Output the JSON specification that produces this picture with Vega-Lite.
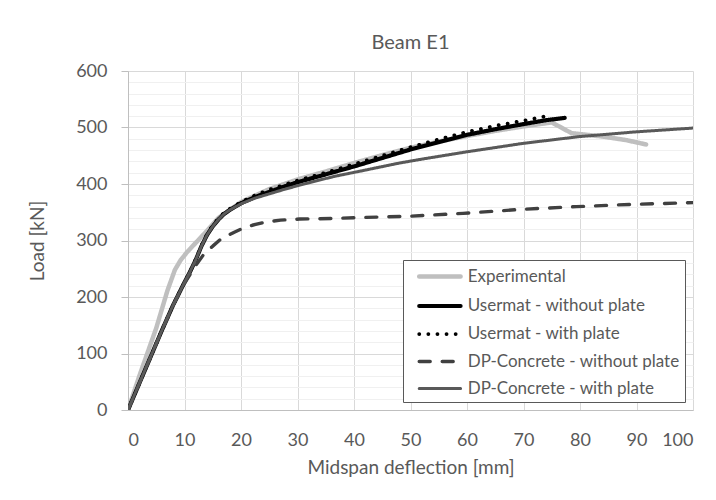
{
  "$schema": "https://vega.github.io/schema/vega-lite/v6.json",
  "autosize": "none",
  "width": 565,
  "height": 339,
  "padding": {"left": 128, "top": 71, "right": 23, "bottom": 90},
  "background": "white",
  "title": {"text": "Beam E1", "font": "Lato", "fontSize": 20, "fontWeight": "normal", "color": "#595959", "anchor": "middle", "frame": "group", "offset": -7, "baseline": "alphabetic"},
  "config": {"view": {"stroke": null}},
  "data": {"values": [
    {"series": "Experimental", "x": 0, "y": 0},
    {"series": "Experimental", "x": 2, "y": 60},
    {"series": "Experimental", "x": 5, "y": 145},
    {"series": "Experimental", "x": 7, "y": 212},
    {"series": "Experimental", "x": 8.3, "y": 248},
    {"series": "Experimental", "x": 9.3, "y": 265},
    {"series": "Experimental", "x": 10.5, "y": 280},
    {"series": "Experimental", "x": 12, "y": 296},
    {"series": "Experimental", "x": 13.5, "y": 312},
    {"series": "Experimental", "x": 16, "y": 340},
    {"series": "Experimental", "x": 20, "y": 368},
    {"series": "Experimental", "x": 25, "y": 391},
    {"series": "Experimental", "x": 30, "y": 408},
    {"series": "Experimental", "x": 35, "y": 422},
    {"series": "Experimental", "x": 40, "y": 437},
    {"series": "Experimental", "x": 45, "y": 451},
    {"series": "Experimental", "x": 50, "y": 464},
    {"series": "Experimental", "x": 55, "y": 475},
    {"series": "Experimental", "x": 60, "y": 485},
    {"series": "Experimental", "x": 65, "y": 494},
    {"series": "Experimental", "x": 70, "y": 502},
    {"series": "Experimental", "x": 75, "y": 509},
    {"series": "Experimental", "x": 78.5, "y": 490},
    {"series": "Experimental", "x": 84, "y": 484},
    {"series": "Experimental", "x": 88, "y": 478},
    {"series": "Experimental", "x": 91.7, "y": 470},

    {"series": "Usermat - without plate", "x": 0, "y": 0},
    {"series": "Usermat - without plate", "x": 2, "y": 47},
    {"series": "Usermat - without plate", "x": 4, "y": 94},
    {"series": "Usermat - without plate", "x": 6, "y": 141},
    {"series": "Usermat - without plate", "x": 8, "y": 186},
    {"series": "Usermat - without plate", "x": 10, "y": 226},
    {"series": "Usermat - without plate", "x": 11, "y": 245},
    {"series": "Usermat - without plate", "x": 12, "y": 266},
    {"series": "Usermat - without plate", "x": 13, "y": 290},
    {"series": "Usermat - without plate", "x": 14, "y": 310},
    {"series": "Usermat - without plate", "x": 15, "y": 325},
    {"series": "Usermat - without plate", "x": 16, "y": 337},
    {"series": "Usermat - without plate", "x": 17, "y": 347},
    {"series": "Usermat - without plate", "x": 18, "y": 354},
    {"series": "Usermat - without plate", "x": 19, "y": 360},
    {"series": "Usermat - without plate", "x": 20, "y": 366},
    {"series": "Usermat - without plate", "x": 22.5, "y": 377},
    {"series": "Usermat - without plate", "x": 25, "y": 386},
    {"series": "Usermat - without plate", "x": 27.5, "y": 395},
    {"series": "Usermat - without plate", "x": 30, "y": 403},
    {"series": "Usermat - without plate", "x": 35, "y": 417},
    {"series": "Usermat - without plate", "x": 40, "y": 431},
    {"series": "Usermat - without plate", "x": 45, "y": 446},
    {"series": "Usermat - without plate", "x": 50, "y": 461},
    {"series": "Usermat - without plate", "x": 55, "y": 474},
    {"series": "Usermat - without plate", "x": 60, "y": 487},
    {"series": "Usermat - without plate", "x": 65, "y": 497},
    {"series": "Usermat - without plate", "x": 70, "y": 506},
    {"series": "Usermat - without plate", "x": 74, "y": 513},
    {"series": "Usermat - without plate", "x": 77.3, "y": 517},

    {"series": "Usermat - with plate", "x": 0, "y": 0},
    {"series": "Usermat - with plate", "x": 2, "y": 47},
    {"series": "Usermat - with plate", "x": 4, "y": 94},
    {"series": "Usermat - with plate", "x": 6, "y": 141},
    {"series": "Usermat - with plate", "x": 8, "y": 186},
    {"series": "Usermat - with plate", "x": 10, "y": 226},
    {"series": "Usermat - with plate", "x": 11, "y": 245},
    {"series": "Usermat - with plate", "x": 12, "y": 267},
    {"series": "Usermat - with plate", "x": 13, "y": 291},
    {"series": "Usermat - with plate", "x": 14, "y": 311},
    {"series": "Usermat - with plate", "x": 15, "y": 327},
    {"series": "Usermat - with plate", "x": 16, "y": 339},
    {"series": "Usermat - with plate", "x": 17, "y": 349},
    {"series": "Usermat - with plate", "x": 18, "y": 356},
    {"series": "Usermat - with plate", "x": 19, "y": 362},
    {"series": "Usermat - with plate", "x": 20, "y": 368},
    {"series": "Usermat - with plate", "x": 22.5, "y": 380},
    {"series": "Usermat - with plate", "x": 25, "y": 390},
    {"series": "Usermat - with plate", "x": 27.5, "y": 398},
    {"series": "Usermat - with plate", "x": 30, "y": 406},
    {"series": "Usermat - with plate", "x": 35, "y": 420},
    {"series": "Usermat - with plate", "x": 40, "y": 435},
    {"series": "Usermat - with plate", "x": 45, "y": 450},
    {"series": "Usermat - with plate", "x": 50, "y": 465},
    {"series": "Usermat - with plate", "x": 55, "y": 479},
    {"series": "Usermat - with plate", "x": 60, "y": 492},
    {"series": "Usermat - with plate", "x": 65, "y": 503},
    {"series": "Usermat - with plate", "x": 70, "y": 512},
    {"series": "Usermat - with plate", "x": 74, "y": 520},

    {"series": "DP-Concrete - without plate", "x": 0, "y": 0},
    {"series": "DP-Concrete - without plate", "x": 2, "y": 47},
    {"series": "DP-Concrete - without plate", "x": 4, "y": 94},
    {"series": "DP-Concrete - without plate", "x": 6, "y": 141},
    {"series": "DP-Concrete - without plate", "x": 8, "y": 186},
    {"series": "DP-Concrete - without plate", "x": 10, "y": 224},
    {"series": "DP-Concrete - without plate", "x": 11, "y": 240},
    {"series": "DP-Concrete - without plate", "x": 12, "y": 256},
    {"series": "DP-Concrete - without plate", "x": 13.3, "y": 274},
    {"series": "DP-Concrete - without plate", "x": 15, "y": 290},
    {"series": "DP-Concrete - without plate", "x": 16.5, "y": 303},
    {"series": "DP-Concrete - without plate", "x": 18.9, "y": 315},
    {"series": "DP-Concrete - without plate", "x": 20, "y": 320},
    {"series": "DP-Concrete - without plate", "x": 22, "y": 327},
    {"series": "DP-Concrete - without plate", "x": 24.5, "y": 333},
    {"series": "DP-Concrete - without plate", "x": 27, "y": 336},
    {"series": "DP-Concrete - without plate", "x": 30.4, "y": 338},
    {"series": "DP-Concrete - without plate", "x": 36.3, "y": 339},
    {"series": "DP-Concrete - without plate", "x": 42.2, "y": 341},
    {"series": "DP-Concrete - without plate", "x": 50, "y": 343},
    {"series": "DP-Concrete - without plate", "x": 59.3, "y": 348},
    {"series": "DP-Concrete - without plate", "x": 69.4, "y": 355},
    {"series": "DP-Concrete - without plate", "x": 79.4, "y": 360},
    {"series": "DP-Concrete - without plate", "x": 89.4, "y": 364},
    {"series": "DP-Concrete - without plate", "x": 100, "y": 367},

    {"series": "DP-Concrete - with plate", "x": 0, "y": 0},
    {"series": "DP-Concrete - with plate", "x": 2, "y": 47},
    {"series": "DP-Concrete - with plate", "x": 4, "y": 94},
    {"series": "DP-Concrete - with plate", "x": 6, "y": 141},
    {"series": "DP-Concrete - with plate", "x": 8, "y": 186},
    {"series": "DP-Concrete - with plate", "x": 10, "y": 226},
    {"series": "DP-Concrete - with plate", "x": 11, "y": 245},
    {"series": "DP-Concrete - with plate", "x": 12, "y": 266},
    {"series": "DP-Concrete - with plate", "x": 13, "y": 290},
    {"series": "DP-Concrete - with plate", "x": 14, "y": 310},
    {"series": "DP-Concrete - with plate", "x": 15, "y": 325},
    {"series": "DP-Concrete - with plate", "x": 16, "y": 337},
    {"series": "DP-Concrete - with plate", "x": 17, "y": 347},
    {"series": "DP-Concrete - with plate", "x": 18, "y": 354},
    {"series": "DP-Concrete - with plate", "x": 20, "y": 365},
    {"series": "DP-Concrete - with plate", "x": 22.5, "y": 375},
    {"series": "DP-Concrete - with plate", "x": 24.5, "y": 381},
    {"series": "DP-Concrete - with plate", "x": 27.5, "y": 390},
    {"series": "DP-Concrete - with plate", "x": 30.4, "y": 398},
    {"series": "DP-Concrete - with plate", "x": 36.3, "y": 413},
    {"series": "DP-Concrete - with plate", "x": 42.2, "y": 425},
    {"series": "DP-Concrete - with plate", "x": 48, "y": 437},
    {"series": "DP-Concrete - with plate", "x": 52, "y": 444},
    {"series": "DP-Concrete - with plate", "x": 60, "y": 457},
    {"series": "DP-Concrete - with plate", "x": 70, "y": 472},
    {"series": "DP-Concrete - with plate", "x": 80, "y": 484},
    {"series": "DP-Concrete - with plate", "x": 89.5, "y": 492},
    {"series": "DP-Concrete - with plate", "x": 100, "y": 499}
  ]},
  "mark": {"type": "line", "strokeCap": "round", "strokeJoin": "round", "clip": true},
  "encoding": {
    "x": {"field": "x", "type": "quantitative",
      "scale": {"domain": [0, 100], "nice": false, "zero": false},
      "axis": {"values": [0,10,20,30,40,50,60,70,80,90,100], "title": "Midspan deflection [mm]",
        "grid": true, "gridColor": "#d9d9d9", "gridWidth": 1,
        "domainColor": "#bfbfbf", "domainWidth": 1, "ticks": false,
        "labelFont": "Lato", "labelFontSize": 18, "labelColor": "#595959", "labelPadding": 21,
        "titleFont": "Lato", "titleFontSize": 19, "titleFontWeight": "normal", "titleColor": "#595959",
        "titleX": 282.5, "titleY": 57, "titleBaseline": "middle", "titleAlign": "center"}},
    "y": {"field": "y", "type": "quantitative",
      "scale": {"domain": [0, 600], "nice": false},
      "axis": {"values": [0,20,40,60,80,100,120,140,160,180,200,220,240,260,280,300,320,340,360,380,400,420,440,460,480,500,520,540,560,580,600],
        "title": "Load [kN]",
        "labelExpr": "datum.value % 100 === 0 ? datum.label : ''",
        "grid": true,
        "gridColor": {"condition": {"test": "datum.value % 100 === 0", "value": "#d9d9d9"}, "value": "#f0f0f0"},
        "tickOpacity": {"condition": {"test": "datum.value % 100 === 0", "value": 1}, "value": 0},
        "tickColor": "#bfbfbf", "tickSize": 7,
        "domainColor": "#bfbfbf", "domainWidth": 1,
        "labelFont": "Lato", "labelFontSize": 18, "labelColor": "#595959", "labelPadding": 14,
        "titleFont": "Lato", "titleFontSize": 19, "titleFontWeight": "normal", "titleColor": "#595959",
        "titleAngle": -90, "titleX": -91, "titleY": 169.5, "titleBaseline": "middle", "titleAlign": "center"}},
    "color": {"field": "series", "type": "nominal",
      "scale": {"domain": ["Experimental", "Usermat - without plate", "Usermat - with plate", "DP-Concrete - without plate", "DP-Concrete - with plate"],
        "range": ["#bfbfbf", "#000000", "#000000", "#404040", "#595959"]},
      "legend": {"title": null, "orient": "none", "legendX": 275, "legendY": 189,
        "strokeColor": "#595959", "fillColor": "white", "padding": 5,
        "symbolType": "M-1,0H3.6", "symbolSize": 324, "rowPadding": 8.5, "symbolOffset": 8.7, "labelOffset": 28,
        "labelLimit": 400,
        "labelFont": "Lato", "labelFontSize": 17, "labelColor": "#595959",
        "encode": {"symbols": {"update": {"strokeCap": {"value": "round"}}}}}},
    "strokeDash": {"field": "series", "type": "nominal",
      "scale": {"domain": ["Experimental", "Usermat - without plate", "Usermat - with plate", "DP-Concrete - without plate", "DP-Concrete - with plate"],
        "range": [[1, 0], [1, 0], [0.1, 9], [11, 12], [1, 0]]},
      "legend": {"title": null}},
    "strokeWidth": {"field": "series", "type": "nominal",
      "scale": {"domain": ["Experimental", "Usermat - without plate", "Usermat - with plate", "DP-Concrete - without plate", "DP-Concrete - with plate"],
        "range": [4.5, 3, 4, 3.5, 1.5]},
      "legend": {"title": null}},
    "order": {"field": "x"}
  }
}
